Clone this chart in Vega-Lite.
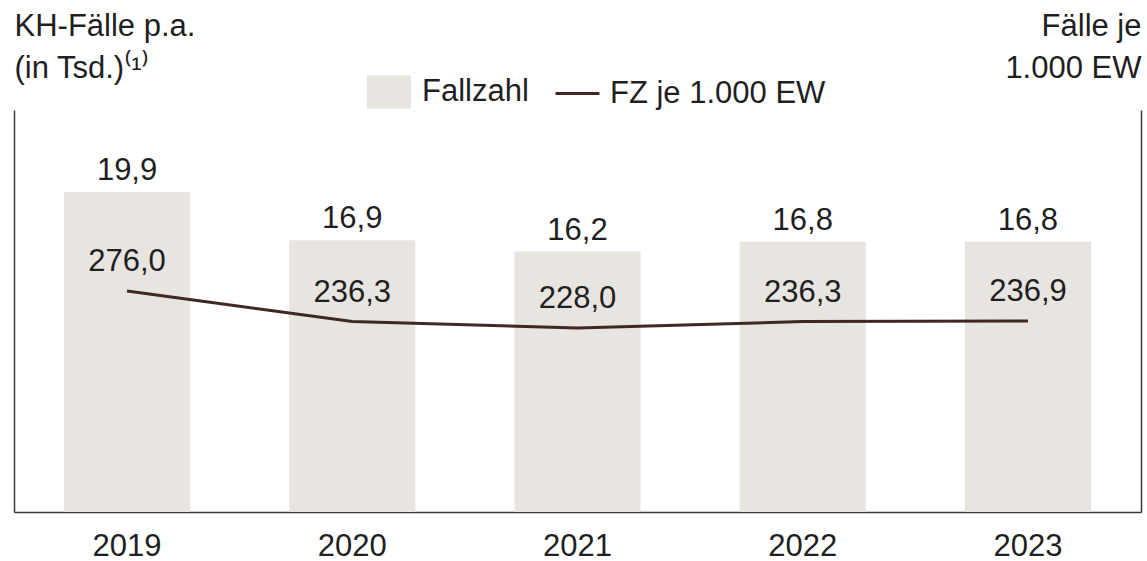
{
  "$schema": "https://vega.github.io/schema/vega-lite/v6.json",
  "width": 1127,
  "height": 402,
  "autosize": {"type": "none"},
  "padding": {"left": 14, "top": 110, "right": 6, "bottom": 49},
  "config": {
    "view": {"stroke": null},
    "font": "Liberation Sans",
    "locale": {"number": {"decimal": ",", "thousands": ".", "grouping": [3], "currency": ["", " €"]}},
    "axis": {"domainColor": "#3a3a3a", "domainWidth": 1.5, "grid": false, "ticks": false, "tickSize": 0, "labelColor": "#1f1f1f", "titleColor": "#1f1f1f", "labelFont": "Liberation Sans", "titleFont": "Liberation Sans"}
  },
  "data": {
    "values": [
      {"year": "2019", "fallzahl": 19.9, "fz": 276.0},
      {"year": "2020", "fallzahl": 16.9, "fz": 236.3},
      {"year": "2021", "fallzahl": 16.2, "fz": 228.0},
      {"year": "2022", "fallzahl": 16.8, "fz": 236.3},
      {"year": "2023", "fallzahl": 16.8, "fz": 236.9}
    ]
  },
  "encoding": {
    "x": {
      "field": "year",
      "type": "nominal",
      "scale": {"paddingInner": 0.44, "paddingOuter": 0.222},
      "axis": {"title": null, "labelAngle": 0, "labelFontSize": 31, "labelPadding": 19, "labelBaseline": "top"}
    }
  },
  "layer": [
    {
      "encoding": {
        "y": {
          "field": "fallzahl",
          "type": "quantitative",
          "scale": {"domain": [0, 25], "nice": false, "zero": true},
          "axis": {
            "orient": "left",
            "labels": false,
            "title": ["KH-Fälle p.a.", "(in Tsd.)⁽¹⁾"],
            "titleAngle": 0,
            "titleAlign": "left",
            "titleBaseline": "alphabetic",
            "titleX": 0,
            "titleY": -75,
            "titleFontSize": 31,
            "titleFontWeight": "normal",
            "titleLineHeight": 42
          }
        }
      },
      "layer": [
        {
          "mark": {"type": "bar"},
          "encoding": {
            "fill": {
              "datum": "Fallzahl",
              "type": "nominal",
              "scale": {"domain": ["Fallzahl"], "range": ["#e8e4e0"]},
              "legend": {
                "orient": "none",
                "legendX": 353,
                "legendY": -40,
                "title": null,
                "padding": 0,
                "symbolType": "M-1,-0.75H1V0.75H-1Z",
                "symbolSize": 1936,
                "symbolStrokeWidth": 0,
                "labelFontSize": 31,
                "labelColor": "#1f1f1f",
                "labelOffset": 11,
                "labelLimit": 500
              }
            }
          }
        },
        {
          "mark": {"type": "text", "baseline": "alphabetic", "dy": -12, "fontSize": 31, "color": "#1f1f1f"},
          "encoding": {"text": {"field": "fallzahl", "type": "quantitative", "format": ".1f"}}
        }
      ]
    },
    {
      "encoding": {
        "y": {
          "field": "fz",
          "type": "quantitative",
          "scale": {"domain": [-11, 511], "nice": false, "zero": false},
          "axis": {
            "orient": "right",
            "labels": false,
            "title": ["Fälle je", "1.000 EW"],
            "titleAngle": 0,
            "titleAlign": "right",
            "titleBaseline": "alphabetic",
            "titleX": 0,
            "titleY": -75,
            "titleFontSize": 31,
            "titleFontWeight": "normal",
            "titleLineHeight": 42
          }
        }
      },
      "layer": [
        {
          "mark": {"type": "line", "strokeWidth": 3},
          "encoding": {
            "stroke": {
              "datum": "FZ je 1.000 EW",
              "type": "nominal",
              "scale": {"domain": ["FZ je 1.000 EW"], "range": ["#3f2822"]},
              "legend": {
                "orient": "none",
                "legendX": 540,
                "legendY": -40,
                "title": null,
                "padding": 0,
                "symbolType": "stroke",
                "symbolSize": 1936,
                "symbolStrokeWidth": 3,
                "labelFontSize": 31,
                "labelColor": "#1f1f1f",
                "labelOffset": 9,
                "labelLimit": 500
              }
            }
          }
        },
        {
          "mark": {"type": "text", "baseline": "alphabetic", "dy": -20, "fontSize": 31, "color": "#1f1f1f"},
          "encoding": {"text": {"field": "fz", "type": "quantitative", "format": ".1f"}}
        }
      ]
    }
  ],
  "resolve": {"scale": {"y": "independent"}}
}
